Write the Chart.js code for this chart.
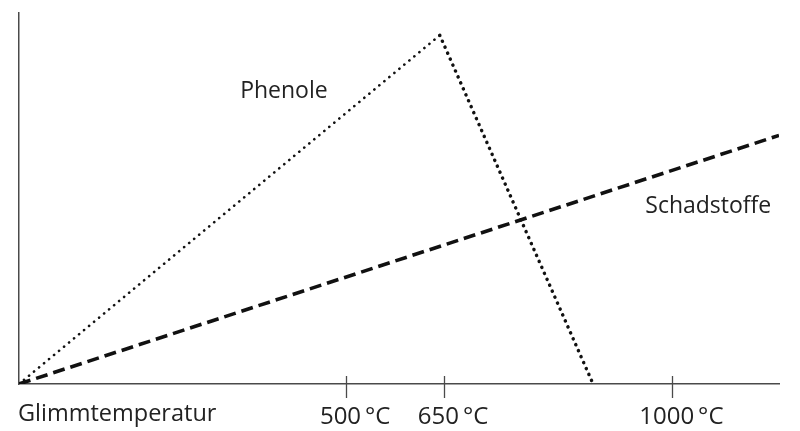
<!DOCTYPE html>
<html>
<head>
<meta charset="utf-8">
<script src="https://cdn.jsdelivr.net/npm/chart.js@4.4.0/dist/chart.umd.min.js"></script>
<style>
  html, body { margin: 0; padding: 0; background: #fff; }
  #wrap { width: 800px; height: 431px; }
</style>
</head>
<body>
<div id="wrap"><canvas id="glimm-chart"></canvas></div>
<script>
// temperature (°C) and relative amount
const phenoleTemps = [0, 645, 880];
const phenoleValues = [0, 94, 0];
const schadTemps = [0, 1165];
const schadValues = [0, 67];
const tickTemps = [500, 650, 1000];

// text labels, anchored in data units (left edge, baseline)
const labelTexts = ['Phenole', 'Schadstoffe'];
const labelTemps = [339, 960];
const labelValues = [77, 46];
const axisName = 'Glimmtemperatur';

const FONT = '"Open Sans", sans-serif';
const AXIS_COLOR = '#4a4a4a';

const toPoints = (xs, ys) => xs.map((x, i) => ({ x: x, y: ys[i] }));

const labelPlugin = {
    id: 'glimmLabels',
    afterDraw(chart) {
        const ctx = chart.ctx;
        const xs = chart.scales.x;
        const ys = chart.scales.y;
        ctx.save();
        // tick marks crossing the axis
        ctx.strokeStyle = AXIS_COLOR;
        ctx.lineWidth = 1.3;
        tickTemps.forEach(t => {
            const px = Math.round(xs.getPixelForValue(t)) + 1.5;
            ctx.beginPath();
            ctx.moveTo(px, ys.bottom - 8);
            ctx.lineTo(px, ys.bottom + 14);
            ctx.stroke();
        });
        ctx.fillStyle = '#222';
        ctx.font = '23px ' + FONT;
        ctx.textAlign = 'left';
        ctx.textBaseline = 'alphabetic';
        labelTexts.forEach((txt, i) => {
            ctx.fillText(txt, xs.getPixelForValue(labelTemps[i]), ys.getPixelForValue(labelValues[i]));
        });
        ctx.font = '23.5px ' + FONT;
        ctx.fillText(axisName, xs.getPixelForValue(0) - 1, ys.bottom + 37);
        ctx.restore();
    }
};

const ctx = document.getElementById('glimm-chart').getContext('2d');
const myChart = new Chart(ctx, {
    type: 'line',
    data: {
        datasets: [{
            label: 'Phenole',
            data: toPoints(phenoleTemps, phenoleValues),
            borderColor: '#111',
            borderWidth: 2.6,
            borderCapStyle: 'round',
            borderDash: [0.1, 6.4],
            pointRadius: 0,
            tension: 0,
            segment: {
                borderWidth: c => c.p0DataIndex === 0 ? 2.6 : 3.5
            }
        }, {
            label: 'Schadstoffe',
            data: toPoints(schadTemps, schadValues),
            borderColor: '#111',
            borderWidth: 3.6,
            borderCapStyle: 'butt',
            borderDash: [12, 6],
            pointRadius: 0,
            tension: 0
        }]
    },
    options: {
        responsive: true,
        maintainAspectRatio: false,
        animation: false,
        layout: { padding: { left: 19, right: 21, top: 13, bottom: 0 } },
        plugins: {
            legend: { display: false },
            tooltip: { enabled: false }
        },
        scales: {
            x: {
                type: 'linear',
                min: 0,
                max: 1165,
                afterBuildTicks: s => { s.ticks = tickTemps.map(v => ({ value: v })); },
                afterFit: s => { s.height = 47; },
                grid: { display: false },
                border: { display: true, color: AXIS_COLOR, width: 1.5 },
                ticks: {
                    color: '#222',
                    font: { family: FONT, size: 24 },
                    padding: 11,
                    labelOffset: 10,
                    maxRotation: 0,
                    autoSkip: false,
                    callback: v => v + '\u2009°C'
                }
            },
            y: {
                min: 0,
                max: 100,
                afterFit: s => { s.width = 0; },
                grid: { display: false },
                border: { display: true, color: AXIS_COLOR, width: 1.5 },
                ticks: { display: false }
            }
        }
    },
    plugins: [labelPlugin]
});
</script>
</body>
</html>
